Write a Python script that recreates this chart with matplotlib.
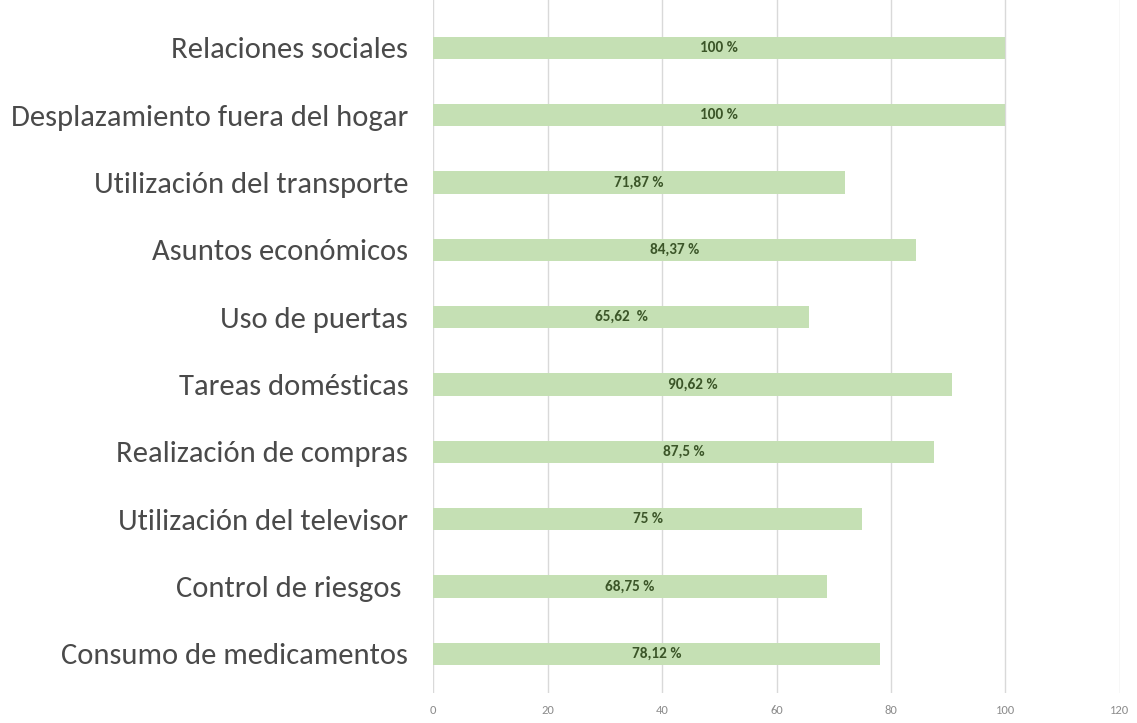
import matplotlib
matplotlib.use("Agg")
import matplotlib.pyplot as plt
from matplotlib import font_manager

# Activities and share of people needing support (%), top to bottom
categories = [
    "Relaciones sociales",
    "Desplazamiento fuera del hogar",
    "Utilización del transporte",
    "Asuntos económicos",
    "Uso de puertas",
    "Tareas domésticas",
    "Realización de compras",
    "Utilización del televisor",
    "Control de riesgos ",
    "Consumo de medicamentos",
]
values = [100, 100, 71.87, 84.37, 65.62, 90.62, 87.5, 75, 68.75, 78.12]
value_labels = ["100 %", "100 %", "71,87 %", "84,37 %", "65,62  %",
                "90,62 %", "87,5 %", "75 %", "68,75 %", "78,12 %"]
xticks = [0, 20, 40, 60, 80, 100, 120]

# pick a narrow sans face (Calibri look-alike first)
names = {f.name for f in font_manager.fontManager.ttflist}
for cand in ("Carlito", "Asap Condensed", "Encode Sans Condensed", "DejaVu Sans"):
    if cand in names:
        FONT = cand
        break
STRETCH = "condensed" if FONT == "DejaVu Sans" else "normal"

BAR = "#c5e0b4"
GRID = "#d9d9d9"

fig = plt.figure(figsize=(11.37, 7.23), dpi=100, facecolor="white")
ax = fig.add_axes([0.381, 0.0415, 0.604, 0.9585])

ypos = list(range(len(categories)))
ax.barh(ypos, values, height=0.33, color=BAR, zorder=3)

for y, v, lab in zip(ypos, values, value_labels):
    ax.text(v / 2, y, lab, ha="center", va="center", fontsize=11,
            fontweight="bold", color="#3b5528", family=FONT,
            fontstretch=STRETCH, zorder=4)

ax.set_xlim(0, 120)
ax.set_ylim(9.58, -0.71)
ax.set_xticks(xticks)
ax.set_xticklabels([str(t) for t in xticks], fontsize=9, color="#8c8c8c",
                   family=FONT, fontstretch=STRETCH)
ax.set_yticks(ypos)
ylabels = ax.set_yticklabels(categories, fontsize=20, color="#4a4a4a",
                             family=FONT, fontstretch=STRETCH)

ax.xaxis.grid(True, color=GRID, linewidth=1, zorder=0)
ax.tick_params(axis="x", length=0, pad=9)
ax.tick_params(axis="y", length=0, pad=18)
for s in ax.spines.values():
    s.set_visible(False)

# scale the category labels so the longest one fills the left margin
fig.canvas.draw()
r = fig.canvas.get_renderer()
widest = max(t.get_window_extent(r).width for t in ylabels)
size = 20 * 398 / widest
for t in ylabels:
    t.set_fontsize(size)

fig.savefig("out.png", dpi=100, facecolor="white")
